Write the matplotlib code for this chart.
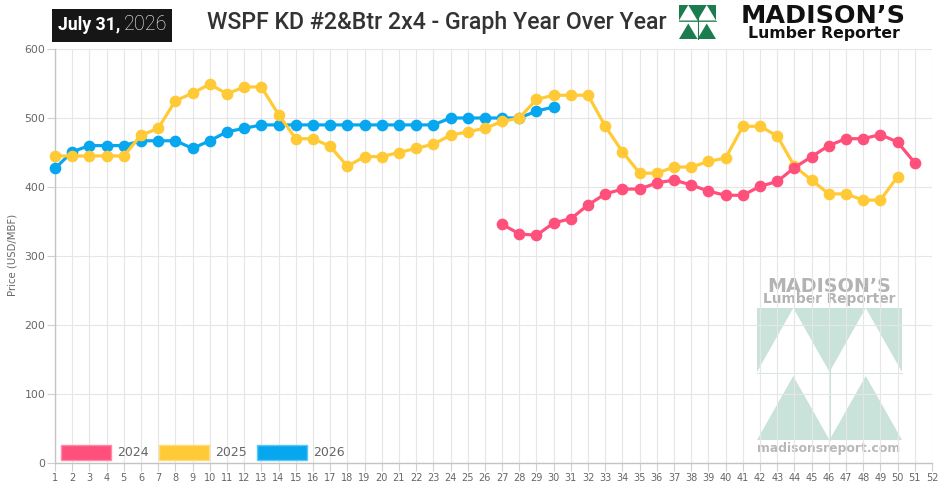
import matplotlib
matplotlib.use("Agg")
import matplotlib.pyplot as plt
from matplotlib.patches import Polygon, Rectangle, Patch

# ---------------- data ----------------
weeks = list(range(1, 53))
series_names = ["2024", "2025", "2026"]
start_2024 = 27
prices_2024 = [346, 332, 330, 348, 354, 374, 390, 397, 397, 406, 410, 403, 394,
               388, 388, 401, 408, 428, 444, 460, 470, 470, 476, 465, 435]
start_2025 = 1
prices_2025 = [445, 445, 445, 445, 445, 475, 485, 525, 536, 549, 535, 545, 545,
               505, 470, 470, 459, 430, 444, 444, 450, 456, 462, 475, 480, 485,
               495, 500, 527, 533, 533, 533, 488, 451, 420, 420, 429, 429, 437,
               442, 488, 488, 474, 430, 410, 390, 390, 381, 381, 415]
start_2026 = 1
prices_2026 = [427, 451, 460, 460, 460, 467, 467, 467, 456, 467, 480, 485, 490,
               490, 490, 490, 490, 490, 490, 490, 490, 490, 490, 500, 500, 500,
               500, 500, 510, 516]
y_ticks = [0, 100, 200, 300, 400, 500, 600]

title_text = "WSPF KD #2&Btr 2x4 - Graph Year Over Year"
date_bold = "July 31,"
date_light = "2026"
y_label = "Price (USD/MBF)"
logo_line1 = "MADISON\u2019S"
logo_line2 = "Lumber Reporter"
logo_url = "madisonsreport.com"

colors = ["#ff4f7b", "#ffca36", "#07a7ef"]
edge_colors = ["#ff8aa8", "#ffdc7a", "#5cc6f5"]

W, H = 952, 500
fig = plt.figure(figsize=(W / 100, H / 100), dpi=100)
fig.patch.set_facecolor("white")
renderer = fig.canvas.get_renderer()

CAP = {"DejaVu Sans": 0.729, "Roboto": 0.711}


def fpt(x, y):
    return (x / W, 1 - y / H)


def poly(points, color, z=-1, alpha=1.0):
    fig.add_artist(Polygon([fpt(x, y) for x, y in points], closed=True,
                           transform=fig.transFigure, facecolor=color,
                           edgecolor="none", zorder=z, alpha=alpha))


def fline(x0, y0, x1, y1, color, lw=0.8, z=-1):
    fig.add_artist(plt.Line2D([x0 / W, x1 / W], [1 - y0 / H, 1 - y1 / H],
                              transform=fig.transFigure, color=color, lw=lw,
                              zorder=z))


def fit_text(s, x0, x1, yc, color, weight="normal", family="DejaVu Sans", z=5):
    t = fig.text(x0 / W, 1 - yc / H, s, fontsize=10, color=color,
                 fontweight=weight, family=family, ha="left", va="center",
                 zorder=z)
    bb = t.get_window_extent(renderer)
    t.set_fontsize(10 * (x1 - x0) / bb.width)
    return t


def cap_text(s, x0, x1, ybase, cap_px, color, weight="bold",
             family="DejaVu Sans", z=5):
    fs = cap_px / CAP[family] * 0.72
    t = fig.text((x0 + x1) / 2 / W, 1 - ybase / H, s, fontsize=fs, color=color,
                 fontweight=weight, family=family, ha="center", va="baseline",
                 zorder=z)
    bb = t.get_window_extent(renderer)
    if bb.width > (x1 - x0):
        t.set_fontsize(fs * (x1 - x0) / bb.width)
    return t


def m_logo(x0, y0, x1, y1, color, gap, z=-1):
    xm = (x0 + x1) / 2
    ym = (y0 + y1) / 2
    top_b = ym - gap / 2
    bot_t = ym + gap / 2
    poly([(x0, y0), (x1, y0), (x1, top_b), (x0, top_b)], color, z)
    poly([((x0 + xm) / 2, y0), (xm, top_b), (x0, top_b)], "white", z + 0.1)
    poly([((xm + x1) / 2, y0), (x1, top_b), (xm, top_b)], "white", z + 0.1)
    poly([((x0 + xm) / 2, bot_t), (xm, y1), (x0, y1)], color, z)
    poly([((xm + x1) / 2, bot_t), (x1, y1), (xm, y1)], color, z)
    fline(xm, y0, xm, y1, color, lw=0.8, z=z + 0.2)
    fline(x0, top_b + 0.5, x1, top_b + 0.5, color, lw=0.6, z=z + 0.2)


# ---------------- axes ----------------
L, R, T, B = 55, 932, 49, 463
ax = fig.add_axes([L / W, (H - B) / H, (R - L) / W, (B - T) / H])
ax.set_facecolor("none")
ax.set_zorder(0)

xs_2024 = list(range(start_2024, start_2024 + len(prices_2024)))
xs_2025 = list(range(start_2025, start_2025 + len(prices_2025)))
xs_2026 = list(range(start_2026, start_2026 + len(prices_2026)))

for xs, ys, c, z in [(xs_2026, prices_2026, colors[2], 3),
                     (xs_2025, prices_2025, colors[1], 4),
                     (xs_2024, prices_2024, colors[0], 5)]:
    ax.plot(xs, ys, color=c, lw=2.3, marker="o", markersize=7.4,
            markerfacecolor=c, markeredgecolor=c, zorder=z, clip_on=False)

ax.set_xlim(1, 52)
ax.set_ylim(0, 600)
ax.set_xticks(weeks)
ax.set_xticklabels([str(w) for w in weeks])
ax.set_yticks(y_ticks)
ax.set_yticklabels([str(v) for v in y_ticks])
ax.grid(True, color="#e6e6e6", lw=0.8, zorder=0)
ax.set_axisbelow(True)
for s in ["top", "right"]:
    ax.spines[s].set_visible(False)
for s in ["left", "bottom"]:
    ax.spines[s].set_color("#c4c4c4")
    ax.spines[s].set_linewidth(1.0)
ax.tick_params(axis="both", colors="#d0d0d0", labelcolor="#666666",
               length=5.5, width=0.8)
ax.tick_params(axis="x", labelsize=7.0, pad=2)
ax.tick_params(axis="y", labelsize=7.8, pad=1.5)

fig.text(13 / W, 1 - 255 / H, y_label, rotation=90, ha="center", va="center",
         fontsize=7.3, color="#666666")

# legend
handles = [Patch(facecolor=colors[i], edgecolor=edge_colors[i], lw=1.0)
           for i in range(3)]
leg = ax.legend(handles, series_names, loc="lower left", ncol=3,
                bbox_to_anchor=((61 - L) / (R - L), 3.5 / (B - T)),
                frameon=False, fontsize=9.0, handlelength=4.0,
                handleheight=1.45, handletextpad=0.48, columnspacing=0.84,
                borderpad=0, borderaxespad=0, labelcolor="#666666")
leg.set_zorder(10)

# ---------------- header ----------------
fig.add_artist(Rectangle(fpt(52, 42), 120 / W, 33 / H, transform=fig.transFigure,
                         facecolor="#161616", edgecolor="none", zorder=2))
fit_text(date_bold, 58, 120, 25, "white", weight="bold", family="Roboto")
fit_text(date_light, 124, 167, 25, "white", weight="light", family="Roboto")

fit_text(title_text, 207, 668, 23, "#333333", weight="medium", family="Roboto")

m_logo(679, 5, 716, 39, "#1b7c50", gap=3, z=3)
cap_text(logo_line1, 722, 925, 23, 18.5, "#111111")
cap_text(logo_line2, 722, 925, 38, 11.5, "#111111")

# ---------------- watermark ----------------
cap_text(logo_line1, 756, 902, 292, 14, "#b3b3b3", z=-1)
cap_text(logo_line2, 756, 902, 303, 10, "#b3b3b3", z=-1)
m_logo(757, 308, 902, 440, "#c9e2da", gap=4, z=-1)
cap_text(logo_url, 756, 902, 452, 9, "#b8b8b8", z=-1)

fig.savefig("out.png", dpi=100, facecolor="white")
